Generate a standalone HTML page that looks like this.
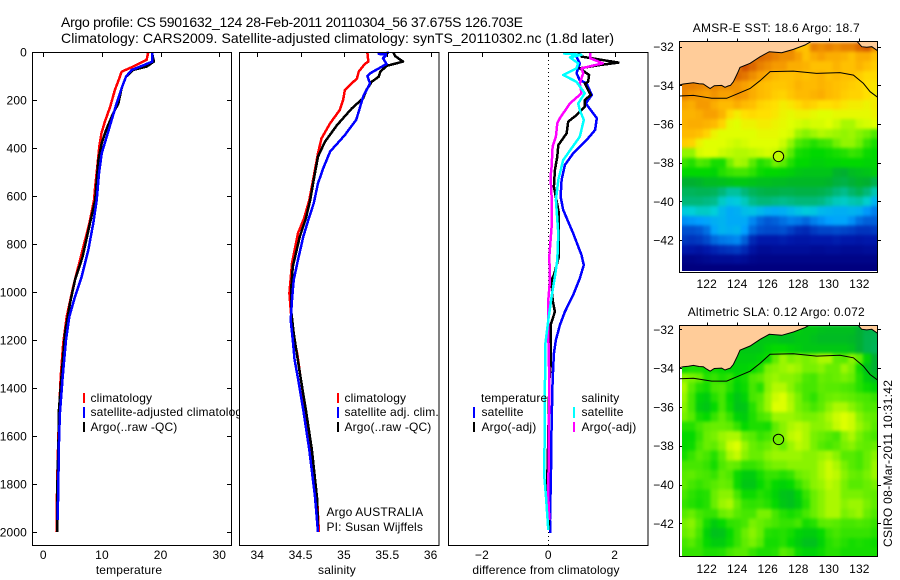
<!DOCTYPE html>
<html>
<head>
<meta charset="utf-8">
<title>Argo profile</title>
<style>
html,body{margin:0;padding:0;background:#fff;}
svg{display:block;font-family:"Liberation Sans",sans-serif;font-size:12px;fill:#000;}
svg text{letter-spacing:0.15px;}
svg text[textLength]{letter-spacing:0;}
</style>
</head>
<body>
<svg id="fig" xmlns="http://www.w3.org/2000/svg" width="900" height="580" viewBox="0 0 900 580">
<defs>
<clipPath id="clip-temp"><rect x="32" y="52" width="207" height="493"/></clipPath>
<clipPath id="clip-sst"><rect x="682" y="41" width="196" height="230"/></clipPath>
<clipPath id="clip-sla"><rect x="682" y="325" width="196" height="231"/></clipPath>
<clipPath id="clip-sst-full"><rect x="679" y="41" width="199" height="232"/></clipPath>
<clipPath id="clip-sla-full"><rect x="679" y="325" width="199" height="232"/></clipPath>
<filter id="soften" x="-5%" y="-5%" width="110%" height="110%" color-interpolation-filters="sRGB"><feGaussianBlur stdDeviation="1.6"/></filter>
</defs>
<text x="61" y="27" font-size="14" textLength="462">Argo profile: CS 5901632_124 28-Feb-2011 20110304_56 37.675S 126.703E</text>
<text x="61" y="43" font-size="14" textLength="553">Climatology: CARS2009. Satellite-adjusted climatology: synTS_20110302.nc (1.8d later)</text>

<g id="p1"></g>
<g clip-path="url(#clip-temp)">
<rect x="83" y="393" width="2" height="10" fill="#f00"/>
<text x="90.5" y="402">climatology</text>
<rect x="83" y="407" width="2" height="11" fill="#00f"/>
<text x="90.5" y="416">satellite-adjusted climatology</text>
<rect x="83" y="422" width="2" height="10" fill="#000"/>
<text x="90.5" y="431">Argo(..raw -QC)</text>
</g>

<g id="p2"></g>
<g>
<rect x="337" y="393" width="2" height="10" fill="#f00"/>
<text x="344.5" y="402">climatology</text>
<rect x="337" y="407" width="2" height="11" fill="#00f"/>
<text x="344.5" y="416">satellite adj. clim.</text>
<rect x="337" y="422" width="2" height="10" fill="#000"/>
<text x="344.5" y="431">Argo(..raw -QC)</text>
<text x="326.5" y="516">Argo AUSTRALIA</text>
<text x="326.5" y="531">PI: Susan Wijffels</text>
</g>

<g id="p3"></g>
<g>
<text x="481" y="402">temperature</text>
<rect x="473" y="407" width="2" height="11" fill="#00f"/>
<text x="481.5" y="416">satellite</text>
<rect x="473" y="422" width="2" height="10" fill="#000"/>
<text x="481.5" y="431">Argo(-adj)</text>
<text x="581.5" y="402">salinity</text>
<rect x="573" y="407" width="2" height="11" fill="#0ff"/>
<text x="581.5" y="416">satellite</text>
<rect x="573" y="422" width="2" height="10" fill="#f0f"/>
<text x="581.5" y="431">Argo(-adj)</text>
</g>

<g id="m1"></g>
<g id="m2"></g>
<text transform="translate(892,547) rotate(-90)" textLength="167">CSIRO 08-Mar-2011 10:31:42</text>
</svg>

<script>
/* ---------- profile data (depth in dbar) ---------- */
var depthTicks = [0,200,400,600,800,1000,1200,1400,1600,1800,2000];
var tempTicks = [0,10,20,30];
var salTicks = [34,34.5,35,35.5,36];
var diffTicks = [-2,0,2];

var tempClimDepth = [0,33,61,82,110,158,228,290,339,394,478,561,617,713,867,978,1103,1214,1353,1500,1700,1880,2000];
var tempClim = [17.9,17.6,15.3,13.35,12.95,12.2,11.4,10.5,9.9,9.55,9.2,8.85,8.65,7.85,6.25,5.1,3.98,3.4,2.96,2.7,2.45,2.3,2.25];
var tempSatDepth = [0,40,61,75,103,151,214,283,353,422,506,617,713,825,936,1019,1103,1200,1353,1500,1600,1800,1950];
var tempSat = [18.6,18.6,16.5,15.05,14.1,13.35,12.5,11.65,10.8,9.95,9.5,9.1,8.53,7.67,6.54,5.4,4.44,3.87,3.3,2.85,2.7,2.55,2.45];
var tempArgoDepth = [0,40,61,75,103,151,214,256,325,380,450,617,713,853,950,1047,1172,1339,1500,1600,1800,2000];
var tempArgo = [18.5,18.85,17.6,15.3,14.1,13.35,12.8,11.9,10.7,9.95,9.4,8.85,7.96,6.7,5.4,4.55,3.7,3.13,2.65,2.6,2.4,2.35];

var salClimDepth = [3,40,50,82,110,158,200,242,297,360,422,519,617,693,755,880,1005,1075,1172,1256,1360,1500,1660,1860,2000];
var salClim = [35.27,35.28,35.24,35.17,35.15,35.01,34.99,34.95,34.84,34.74,34.7,34.65,34.6,34.54,34.47,34.4,34.37,34.385,34.41,34.46,34.5,34.56,34.63,34.69,34.71];
var salSatDepth = [3,8,12,26,50,89,100,131,186,249,283,346,415,485,547,631,697,769,866,950,1033,1117,1200,1283,1360,1492,1658,1853,2000];
var salSat = [35.52,35.4,35.49,35.45,35.49,35.3,35.27,35.3,35.22,35.17,35.14,35.01,34.84,34.76,34.7,34.65,34.59,34.53,34.47,34.42,34.4,34.385,34.41,34.43,34.47,34.53,34.6,34.665,34.7];
var salArgoDepth = [3,17,40,58,82,103,124,158,193,235,304,374,436,533,617,693,769,894,991,1075,1172,1242,1360,1492,1658,1860,1980];
var salArgo = [35.57,35.59,35.68,35.49,35.42,35.4,35.32,35.26,35.22,35.09,34.92,34.78,34.7,34.65,34.61,34.56,34.49,34.41,34.39,34.39,34.42,34.45,34.5,34.56,34.63,34.69,34.7];

var diffTempSatDepth = [3,19,47,89,117,131,179,214,276,325,367,422,471,533,603,658,756,846,888,943,1012,1082,1138,1200,1256,1367,1547,1742,1950,2005];
var diffTempSat = [0.95,0.85,0.95,0.85,0.95,1.15,1.31,1.13,1.46,1.41,1.15,0.75,0.5,0.4,0.37,0.45,0.75,1.0,1.07,0.95,0.75,0.5,0.35,0.23,0.17,0.13,0.1,0.08,0.05,0.06];
var diffTempArgoDepth = [3,19,44,54,68,96,124,131,179,200,228,263,290,339,388,436,492,561,672,853,929,950,1033,1082,1138,1311,1367,1603,1776,1992];
var diffTempArgo = [0.9,1.0,2.11,1.56,0.95,1.23,1.2,1.1,1.28,1.1,1.1,0.85,0.6,0.55,0.3,0.27,0.2,0.17,0.32,0.32,0.17,0.1,0.13,0.2,0.07,0.07,0.03,0,-0.03,0.02];
var diffSalSatDepth = [6,12,22,47,68,96,124,172,214,242,283,353,450,533,617,756,867,936,1019,1117,1228,1367,1769,1853,1992];
var diffSalSat = [0.45,1.0,0.65,0.9,0.85,0.45,0.85,1.1,0.9,0.95,1.07,0.95,0.45,0.3,0.23,0.3,0.27,0.2,0.1,0,-0.1,-0.1,-0.12,-0.07,0];
var diffSalArgoDepth = [3,26,47,68,89,131,172,214,276,297,353,394,478,519,603,728,853,950,1033,1172,1367,1853,1950];
var diffSalArgo = [1.26,1.26,1.64,1,1.05,0.95,1,0.65,0.35,0.27,0.23,0.13,0.1,0.07,0.1,0.1,0.03,0.05,0,0,0.03,0,0.03];

/* ---------- map data ---------- */
var mapLons = [120.5,121,121.5,122,122.5,123,123.5,124,124.5,125,125.5,126,126.5,127,127.5,128,128.5,129,129.5,130,130.5,131,131.5,132,132.5,133];
var mapLats = [-32,-32.5,-33,-33.5,-34,-34.5,-35,-35.5,-36,-36.5,-37,-37.5,-38,-38.5,-39,-39.5,-40,-40.5,-41,-41.5,-42,-42.5,-43,-43.5];
var mapLonTicks = [122,124,126,128,130,132];
var mapLatTicks = [-32,-34,-36,-38,-40,-42];
var sstGrid = [
[21,21,21,21,21,21,21,21,21,21,21,21,21,21,21,20,20,21,20.8,21,20.8,21,21,21.5,21.8,20.8],
[21,21,21,21,21,21,21,21,21,21,21.5,21.3,21,20.8,20.8,20.5,20,20.3,20.5,20.3,20.3,20.2,20,20.3,20.3,20],
[21,21,21,21,21,21,21,21,22,21.5,21,20.8,20.6,20.6,20.3,20.3,20.2,20,20,20,20.2,20,20,20.2,20,19.8],
[21,21,21,21,21,21,21,21.5,21.2,20.8,20.5,20.3,20.1,20,20,20.1,20,20.1,20.2,20,20.1,20,20,19.8,19.6,19.6],
[21,21,20.9,20.8,20.9,20.8,20.8,20.7,20.5,20.3,20.1,20,19.9,19.9,20,20.2,20.1,20.1,20.2,20.1,20,19.9,19.8,19.7,19.5,19.4],
[20.9,20.7,20.6,20.5,20.7,20.5,20.5,20.7,20.6,20.3,20.1,20,19.8,19.7,19.9,20.1,20.1,20.2,20.3,20.1,20,19.8,19.7,19.7,19.5,19.3],
[20.4,20.3,20.6,20.6,20.3,20.1,20.1,20.3,20.1,20,19.7,19.6,19.5,19.3,19.4,19.6,19.8,19.7,19.5,19.5,19.6,19.4,19.3,19.3,19.2,19.3],
[20.2,20.2,20.3,20.5,20.5,20.2,19.6,19.3,19.5,19.6,19.5,19.5,19.4,19.2,19.1,19.2,19.2,19.1,19,19,19.1,19.1,19.1,19.1,19.1,19.2],
[20.2,20.3,20.3,20.2,20.1,19.7,19.1,19,19.2,19.2,19.3,19.3,19.2,19.1,19,18.9,18.8,18.9,18.9,19,18.8,18.5,18.5,18.8,18.9,19],
[20.1,20.1,20,19.7,19.2,19,19,19,19,19,19.1,19.1,19.1,19,18.9,18.4,18.2,18.4,18.6,18.5,18.4,18.3,18.4,18.2,18,17.7],
[19.8,19.7,19.2,19,19,19,18.9,18.8,18.9,19,19,19,19,18.8,18.3,17.7,17.5,17.3,17.5,17.6,18,18.3,18.3,18,17.5,17.2],
[18.3,18.3,18.9,19,19,18.8,18.7,18.6,18.6,18.7,18.8,18.9,18.8,18.4,17.8,17.2,17.1,17,17,17.1,17.2,17.3,17.5,17.4,17.1,17],
[17.5,17.3,17.7,17.6,17.2,17.2,18,18.5,18.4,17.8,17.3,17.5,18,17.8,17.3,17,17,16.8,16.8,16.9,16.9,17,17,17,16.9,16.9],
[17,17,17,17,16.9,17.3,17.5,17.6,17.6,17.4,17.1,17,17,16.9,16.8,16.6,16.5,16.5,16.5,16.5,16.1,16,16.3,16.4,16.5,16.7],
[16,16,16.1,16.3,16.3,16.4,16.5,16.6,16.6,16.5,16.4,16.4,16.3,16.3,16.2,16.2,16.2,16.2,16.2,16.1,15.8,15.7,15.9,16.1,16,15.6],
[15.4,15.4,15.5,15.5,15.4,15,14.6,14.6,15,15.4,15.6,15.7,15.7,15.6,15.6,15.7,15.7,15.7,15.6,15.4,15,14.8,15.2,15.5,15,14.4],
[15,15,15,14.9,14.8,14.2,13.8,13.9,14.3,14.8,15,15,14.9,14.8,14.9,15,15,15,14.9,14.6,14.3,14.2,14.4,14.5,14.1,13.4],
[13.9,14,14.2,14.2,14,13.5,13.2,13.3,13.6,13.7,13.5,13.3,13.2,13.3,13.5,13.7,13.9,13.8,13.5,13.4,13.3,13.3,13.4,13.3,12.9,12.6],
[12.8,12.9,13,13.1,13.3,13.4,13.2,13.2,13.2,12.7,12.3,12.1,12.2,12.4,12.6,12.5,12.3,12.6,12.8,13,13.1,13.1,12.8,12.4,12.2,12.2],
[12,12,12.1,12.4,13.1,13.4,13.3,13.4,13,12.3,12,11.9,11.9,12,11.7,11.4,11.3,11.6,11.8,11.8,11.9,11.8,11.7,11.5,11.5,11.6],
[11.6,11.5,11.6,11.9,12.3,12.5,12.6,12.7,12.2,11.3,11,11,11,11.1,11,10.9,10.9,11,11,11,11.1,11,11,10.9,11,11],
[11,10.9,10.8,11,11.2,11.4,11.5,11.6,11.3,10.8,10.5,10.5,10.6,10.6,10.6,10.6,10.6,10.5,10.5,10.6,10.6,10.5,10.5,10.5,10.6,10.6],
[10.2,10.2,10.3,10.4,10.5,10.5,10.5,10.6,10.5,10.3,10.2,10.2,10.2,10.2,10.2,10.2,10.2,10.2,10.2,10.2,10.2,10.2,10.2,10.2,10.2,10.2],
[10,10,10,10,10,10,10,10,10,10,10,10,10,10,10,10,10,10,10,10,10,10,10,10,10,10]
];
var slaGrid = [
[-0.1,-0.1,-0.1,-0.1,-0.1,-0.1,-0.1,-0.1,-0.1,-0.1,-0.1,-0.1,-0.1,-0.1,-0.1,-0.1,-0.12,-0.12,-0.14,-0.15,-0.15,-0.15,-0.15,-0.2,-0.24,-0.25],
[-0.1,-0.1,-0.1,-0.1,-0.1,-0.1,-0.1,-0.1,-0.1,-0.1,-0.12,-0.12,-0.12,-0.14,-0.14,-0.12,-0.12,-0.14,-0.16,-0.16,-0.16,-0.16,-0.17,-0.2,-0.25,-0.26],
[-0.1,-0.1,-0.1,-0.1,-0.1,-0.1,-0.1,-0.1,-0.12,-0.12,-0.12,-0.08,-0.06,-0.06,-0.08,-0.1,-0.12,-0.12,-0.12,-0.12,-0.12,-0.12,-0.14,-0.2,-0.25,-0.27],
[-0.1,-0.1,-0.1,-0.1,-0.1,-0.1,-0.1,-0.1,-0.1,-0.1,-0.08,-0.05,0.05,0.12,0.08,0.1,0.08,0.1,0.14,0.14,0.05,0.04,0.1,0.05,-0.08,-0.2],
[-0.05,-0.03,-0.03,-0.05,-0.05,-0.06,-0.08,-0.08,-0.08,-0.06,-0.02,0.08,0.1,0.12,0.14,0.12,0.08,0.08,0.1,0.06,0.06,0.12,0.08,-0.04,-0.14,-0.2],
[0.1,0.08,0.06,-0.02,0,-0.03,-0.01,-0.06,-0.04,0.03,0.05,0.1,0.12,0.1,0.1,0.08,0.03,0.02,0.06,0.05,0.06,0.08,0.06,-0.02,-0.1,-0.15],
[0.14,0.04,-0.02,-0.04,0.02,0.03,-0.02,-0.08,-0.05,0.02,-0.02,0.1,0.15,0.15,0.1,0.05,0.02,0.02,0.05,0.04,0.04,0.03,0.02,-0.02,-0.05,-0.08],
[0.12,0.02,-0.08,-0.1,-0.02,0.02,-0.06,-0.12,-0.08,0.02,0.04,0.12,0.18,0.2,0.14,0.08,0.02,-0.01,0.04,0.06,0.07,0.06,0.05,0.03,0.02,0],
[0.1,0.02,-0.1,-0.12,-0.06,0.02,-0.05,-0.13,-0.12,-0.02,0.05,0.12,0.2,0.2,0.15,0.08,0.05,0.02,0.05,0.1,0.14,0.14,0.1,0.06,0.03,0.03],
[0.08,0.04,-0.04,-0.06,0,0.05,0,-0.08,-0.1,-0.03,0.02,0.04,0.12,0.12,0.12,0.1,0.08,0.08,0.1,0.14,0.18,0.2,0.18,0.1,0.06,0.05],
[-0.02,-0.02,0.02,0.05,0.06,0.06,0.05,0,-0.06,-0.03,-0.03,-0.04,0.05,0.1,0.14,0.16,0.14,0.1,0.1,0.12,0.17,0.2,0.18,0.12,0.08,0.04],
[-0.06,-0.06,0,0.06,0.08,0.12,0.14,0.14,0.06,0.04,0,0.02,0.06,0.1,0.16,0.18,0.14,0.08,0.06,0.04,0.02,0.1,0.14,0.08,0.04,0.02],
[-0.06,-0.05,0.02,0.06,0.05,0.1,0.18,0.2,0.12,0.06,0.04,0.06,0.1,0.06,0.12,0.16,0.14,0.08,0.04,0.02,0.04,0.08,0.1,0.06,0.05,0.06],
[-0.04,0,0.04,0.02,-0.02,0.05,0.14,0.17,0.1,0.06,0.06,0.1,0.12,0.12,0.12,0.12,0.1,0.1,0.12,0.14,0.1,0.04,0.04,0.02,0.06,0.1],
[0.02,0.02,0.02,0,-0.04,0.03,0.06,0.05,0,0,0.02,0.06,0.08,0.08,0.1,0.1,0.1,0.1,0.14,0.18,0.14,0.08,0.04,0.02,0.06,0.12],
[0.04,0.05,0.03,0.02,0,0.05,0.03,-0.05,-0.1,-0.1,-0.04,0,0,-0.02,0,0.06,0.08,0.1,0.14,0.18,0.16,0.1,0.06,0.05,0.08,0.12],
[0.05,0.02,0,0.02,0.04,0.06,0.05,-0.05,-0.12,-0.12,-0.06,-0.02,-0.06,-0.08,-0.06,0,0.05,0.1,0.12,0.16,0.14,0.08,0.04,0.04,0.06,0.08],
[0.02,-0.01,-0.03,-0.02,0.06,0.1,0.1,0.02,-0.05,-0.05,-0.02,-0.04,-0.08,-0.13,-0.14,-0.08,0,0.06,0.1,0.14,0.14,0.08,0.08,0.08,0.06,0.05],
[0,-0.02,-0.04,-0.02,0.06,0.12,0.14,0.06,0,-0.01,0,-0.02,-0.06,-0.12,-0.14,-0.1,-0.02,0.06,0.1,0.14,0.14,0.1,0.12,0.12,0.08,0.05],
[0.04,0.06,0.02,0,0,0.06,0.08,0.04,0.02,0.02,0.08,0.08,0.02,-0.02,-0.04,-0.02,0.02,0.06,0.1,0.14,0.14,0.08,0.1,0.12,0.06,0.03],
[0.08,0.1,0.04,-0.04,-0.1,-0.06,-0.01,0,0.02,0.08,0.06,0.04,0.02,0,0,0.02,-0.04,-0.02,0.04,0.05,0.04,0.02,0.02,0.03,0.02,0],
[0.06,0.08,0.02,-0.08,-0.14,-0.13,-0.06,0,0.06,0.1,0.06,-0.02,-0.03,-0.02,-0.04,-0.08,-0.1,-0.1,-0.06,0,0.02,0,0,0,0,-0.02],
[0.02,0.04,0,-0.06,-0.1,-0.1,-0.05,0,0.05,0.08,0.04,-0.04,-0.04,-0.02,-0.06,-0.1,-0.14,-0.14,-0.08,-0.02,0,-0.02,-0.04,-0.03,-0.04,-0.05],
[0,0,0,-0.03,-0.03,-0.02,0.02,0.04,0.04,0,-0.03,-0.03,-0.02,0.04,0.02,-0.05,-0.08,-0.08,-0.05,-0.02,-0.02,-0.04,-0.04,-0.04,-0.04,-0.04]
];
var coastLon = [120.21,120.47,120.8,121.13,121.5,121.78,122.0,122.22,122.5,122.98,123.2,123.42,123.55,123.75,124.01,124.18,124.84,125.49,126.1,126.91,127.68,128.44,128.88,131.83,132.15,132.48,132.81,133.2];
var coastLat = [-33.98,-33.93,-33.9,-33.86,-33.92,-33.93,-34.05,-34.16,-34.02,-34.0,-34.1,-34.03,-34.0,-33.81,-33.38,-33.07,-32.86,-32.52,-32.26,-32.31,-32.14,-31.91,-31.71,-31.71,-32.0,-32.03,-32,-32.21];
var isobathLon = [120.21,121.13,122.33,123.31,123.97,124.84,125.49,126.15,127.68,129.2,130.73,131.61,132.26,132.7,133.2];
var isobathLat = [-34.55,-34.52,-34.67,-34.67,-34.45,-34.16,-33.76,-33.29,-33.26,-33.38,-33.34,-33.47,-33.9,-34.33,-34.62];
var floatLon = 126.703;
var floatLat = -37.675;
var argoSST = 18.7;
var argoSLA = 0.072;

/* ---------- axis functions ---------- */
function yDepth(d){return 52+d*0.24;}
function xTemp(v){return 43.3+v*5.867;}
function xSal(v){return 257.3+(v-34)*86.7;}
function xDiff(v){return 548.3+v*33.2;}
function lonX(v){return 706.7+(v-122)*15.27;}
function sstY(v){return 46.7+(-32-v)*19.33;}
function slaY(v){return 329.3+(-32-v)*19.4;}

var NS='http://www.w3.org/2000/svg';
function mk(parent,tag,attrs){
  var e=document.createElementNS(NS,tag);
  for(var k in attrs){e.setAttribute(k,attrs[k]);}
  parent.appendChild(e);
  return e;
}
function series(parent,xf,vals,depths,color,name,w){
  var pts=[];
  for(var i=0;i<vals.length;i++){pts.push(xf(vals[i]).toFixed(1)+','+yDepth(depths[i]).toFixed(1));}
  var el=mk(parent,'polyline',{points:pts.join(' '),fill:'none',stroke:color,'stroke-width':w||2.5,'stroke-linejoin':'round','shape-rendering':'crispEdges'});
  
  
}
function tickLine(parent,x1,y1,x2,y2){
  var el=mk(parent,'line',{x1:x1,y1:y1,x2:x2,y2:y2,stroke:'#000','stroke-width':1,'shape-rendering':'crispEdges'});
  
  
}
function label(parent,x,y,txt,anchor,name){
  var el=mk(parent,'text',{x:x,y:y,'text-anchor':anchor});
  el.textContent=txt;
  
  
}
function frame(parent,x,y,w,h){
  var el=mk(parent,'rect',{x:x,y:y,width:w,height:h,fill:'none',stroke:'#000','stroke-width':1,'shape-rendering':'crispEdges'});
  
  
}
function fmtNeg(v){return String(v).replace('-','\u2212');}

/* ---------- profile panels ---------- */
var p1=document.getElementById('p1');
var p2=document.getElementById('p2');
var p3=document.getElementById('p3');

series(p1,xTemp,tempClim,tempClimDepth,'#f00','temperature-climatology-line');
series(p1,xTemp,tempArgo,tempArgoDepth,'#000','temperature-argo-line');
series(p1,xTemp,tempSat,tempSatDepth,'#00f','temperature-satellite-line');
frame(p1,32.5,52.5,199,493);
depthTicks.forEach(function(d){
  var y=Math.round(yDepth(d))+0.5;
  tickLine(p1,33,y,37,y);
  tickLine(p1,227,y,231,y);
  label(p1,27,yDepth(d)+4.5,String(d),'end','depth-tick-label');
});
tempTicks.forEach(function(v){
  var x=Math.round(xTemp(v))+0.5;
  tickLine(p1,x,53,x,57);
  label(p1,xTemp(v),559,String(v),'middle','temperature-tick-label');
});
label(p1,129,574,'temperature','middle','temperature-axis-title');

series(p2,xSal,salClim,salClimDepth,'#f00','salinity-climatology-line');
series(p2,xSal,salArgo,salArgoDepth,'#000','salinity-argo-line');
series(p2,xSal,salSat,salSatDepth,'#00f','salinity-satellite-line');
frame(p2,239.5,52.5,199.5,493);
salTicks.forEach(function(v){
  var x=Math.round(xSal(v))+0.5;
  tickLine(p2,x,53,x,57);
  label(p2,xSal(v),559,String(v),'middle','salinity-tick-label');
});
label(p2,337,574,'salinity','middle','salinity-axis-title');

var zeroLine=mk(p3,'line',{x1:xDiff(0),y1:52,x2:xDiff(0),y2:545,stroke:'#000','stroke-width':1,'stroke-dasharray':'1 3','shape-rendering':'crispEdges'});


series(p3,xDiff,diffTempSat,diffTempSatDepth,'#00f','difference-temperature-satellite-line');
series(p3,xDiff,diffTempArgo,diffTempArgoDepth,'#000','difference-temperature-argo-line');
series(p3,xDiff,diffSalArgo,diffSalArgoDepth,'#f0f','difference-salinity-argo-line');
series(p3,xDiff,diffSalSat,diffSalSatDepth,'#0ff','difference-salinity-satellite-line');
frame(p3,448.5,52.5,199.5,493);
diffTicks.forEach(function(v){
  var x=Math.round(xDiff(v))+0.5;
  tickLine(p3,x,53,x,57);
  label(p3,xDiff(v),559,fmtNeg(v),'middle','difference-tick-label');
});
label(p3,546,574,'difference from climatology','middle','difference-axis-title');

/* ---------- maps ---------- */
var stopsT=[10,11,12,13,14,15,16,17,18,19,19.5,20,20.5,21,22];
var stopsC=[[0,0,127],[0,24,170],[0,80,208],[0,160,255],[0,208,216],[0,184,120],[0,176,48],[0,216,0],[112,240,0],[224,255,0],[255,224,0],[255,192,0],[248,160,0],[232,128,0],[208,80,0]];
function sstColor(t){
  if(t<=stopsT[0]){return 'rgb('+stopsC[0].join(',')+')';}
  for(var i=1;i<stopsT.length;i++){
    if(t<=stopsT[i]){
      var f=(t-stopsT[i-1])/(stopsT[i]-stopsT[i-1]);
      var a=stopsC[i-1],b=stopsC[i];
      return 'rgb('+Math.round(a[0]+(b[0]-a[0])*f)+','+Math.round(a[1]+(b[1]-a[1])*f)+','+Math.round(a[2]+(b[2]-a[2])*f)+')';
    }
  }
  return 'rgb('+stopsC[stopsC.length-1].join(',')+')';
}
function slaColor(v){return sstColor(18+(v-0.07)*7.5);}

function drawMap(id,grid,yf,colorF,clipData,clipFull,title,titleX,titleLen,titleY,labelY,fy,fh,argoVal){
  var g=document.getElementById(id);
  var clipper=mk(g,'g',{'clip-path':'url(#'+clipData+')'});
  
  
  var cells=mk(clipper,'g',{filter:'url(#soften)','shape-rendering':'crispEdges'});
  
  
  for(var r=0;r<mapLats.length;r++){
    for(var c=0;c<mapLons.length;c++){
      var x0=lonX(mapLons[c]-0.25),x1=lonX(mapLons[c]+0.25);
      var y0=yf(mapLats[r]+0.25),y1=yf(mapLats[r]-0.25);
      if(c===0){x0-=12;}
      if(c===mapLons.length-1){x1+=12;}
      if(r===mapLats.length-1){y1+=12;}
      var cell=mk(cells,'rect',{x:x0.toFixed(2),y:y0.toFixed(2),width:(x1-x0+0.6).toFixed(2),height:(y1-y0+0.6).toFixed(2),fill:colorF(grid[r][c])});
      
      
    }
  }
  var over=mk(g,'g',{'clip-path':'url(#'+clipFull+')'});
  
  
  var pts=[],i;
  for(i=0;i<coastLon.length;i++){pts.push(lonX(coastLon[i]).toFixed(1)+','+yf(coastLat[i]).toFixed(1));}
  var landPts=pts.concat([lonX(133.3)+','+(fy-1),lonX(120.2)+','+(fy-1)]);
  var land=mk(over,'polygon',{points:landPts.join(' '),fill:'#ffcc99',stroke:'none'});
  
  
  var coast=mk(over,'polyline',{points:pts.join(' '),fill:'none',stroke:'#000','stroke-width':1});
  
  
  var iso=[];
  for(i=0;i<isobathLon.length;i++){iso.push(lonX(isobathLon[i]).toFixed(1)+','+yf(isobathLat[i]).toFixed(1));}
  var isoLine=mk(over,'polyline',{points:iso.join(' '),fill:'none',stroke:'#000','stroke-width':1});
  
  
  var marker=mk(g,'circle',{cx:lonX(floatLon).toFixed(1),cy:yf(floatLat).toFixed(1),r:5.2,fill:colorF(argoVal),stroke:'#000','stroke-width':1});
  
  
  frame(g,679.5,fy,198,fh);
  mapLonTicks.forEach(function(v){
    var x=Math.round(lonX(v))+0.5;
    tickLine(g,x,fy-3,x,fy);
    label(g,lonX(v),labelY,String(v),'middle','longitude-tick-label');
  });
  mapLatTicks.forEach(function(v){
    var y=Math.round(yf(v))+0.5;
    tickLine(g,878,y,881,y);
    tickLine(g,680,y,682,y);
    label(g,674,yf(v)+4.5,fmtNeg(v),'end','latitude-tick-label');
  });
  var t=mk(g,'text',{x:titleX,y:titleY,textLength:titleLen});
  t.textContent=title;
  
  
}
drawMap('m1',sstGrid,sstY,sstColor,'clip-sst','clip-sst-full','AMSR-E SST: 18.6  Argo: 18.7',692.7,167,32,288,41.5,231,argoSST);
drawMap('m2',slaGrid,slaY,slaColor,'clip-sla','clip-sla-full','Altimetric SLA: 0.12  Argo: 0.072',687.7,177,316,573,325.5,231,argoSLA);
</script>
</body>
</html>
